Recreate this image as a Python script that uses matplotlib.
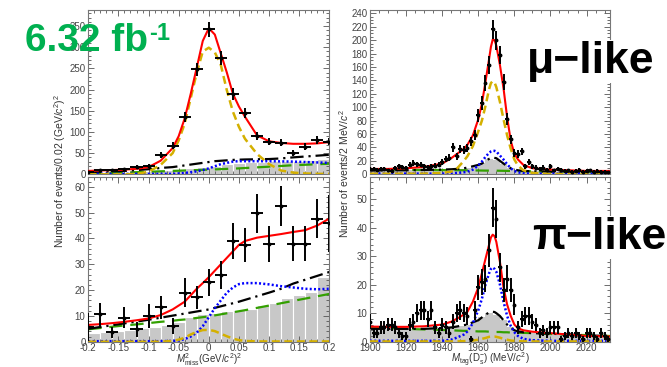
import numpy as np
import matplotlib
matplotlib.use("Agg")
import matplotlib.pyplot as plt
from matplotlib.ticker import MultipleLocator, FuncFormatter

plt.rcParams["font.family"] = ["Liberation Sans", "DejaVu Sans"]
plt.rcParams["mathtext.fontset"] = "custom"
plt.rcParams["mathtext.rm"] = "Liberation Sans"
plt.rcParams["mathtext.it"] = "Liberation Sans:italic"

# ---- left panels: M^2_miss (GeV/c^2)^2 ----
mm_x = [-0.2, -0.18, -0.16, -0.14, -0.12, -0.1, -0.08, -0.06, -0.04, -0.02, 0.0,
        0.02, 0.04, 0.06, 0.08, 0.1, 0.12, 0.14, 0.16, 0.18, 0.2]
mu_mm_n = [6, 9, 10, 12, 18, 20, 46, 67, 136, 248, 342, 274, 189, 145, 90, 77, 75, 51, 65, 81, 77]
mu_mm_err = [2.5, 3, 3.2, 3.5, 4.2, 4.5, 6.8, 8.2, 11.7, 15.7, 18.5, 16.6, 13.7, 12, 9.5, 8.8,
             8.7, 7.1, 8.1, 9, 8.8]
pi_mm_n = [5.8, 10.6, 3.6, 9.3, 4.8, 10, 13.3, 6, 19, 17.2, 23, 25.8, 39, 37.4, 49.7, 38,
           52.5, 38, 38, 47.7, 45.8]
pi_mm_err = [5.5, 4.5, 2, 4, 3, 4.5, 4.5, 3.2, 5.5, 4.5, 5.2, 5.5, 7, 6.6, 7.7, 7, 7.7, 6.7,
             6.7, 7.7, 11]

# gray background histogram (0.02 bins, edges -0.2..0.2)
mm_edges = [-0.2, -0.18, -0.16, -0.14, -0.12, -0.1, -0.08, -0.06, -0.04, -0.02, 0.0,
            0.02, 0.04, 0.06, 0.08, 0.1, 0.12, 0.14, 0.16, 0.18, 0.2]
mu_mm_gray = [4, 5, 5, 6, 7, 8, 10, 12, 14, 17, 20, 24, 27, 29, 30, 31, 31, 32, 33, 35]
pi_mm_gray = [3.5, 3.8, 4.3, 4.7, 5.2, 5.8, 6.5, 7.5, 9.7, 10.7, 11.2, 11.8, 12.3, 12.8,
              14.2, 15, 16.8, 18, 19.4, 25.2]

# fit components
mm_grid = [-0.2, -0.18, -0.16, -0.14, -0.12, -0.1, -0.08, -0.06, -0.05, -0.04, -0.03, -0.02,
           -0.01, 0.0, 0.01, 0.02, 0.03, 0.04, 0.05, 0.06, 0.08, 0.1, 0.12, 0.14, 0.16, 0.18, 0.2]
mu_mm_total = [8, 9, 10, 11, 13, 17, 32, 62, 90, 132, 190, 252, 315, 345, 330, 285, 240, 190,
               160, 136, 92, 78, 74, 72, 72, 73, 76]
mu_mm_sig = [0, 0, 0, 0, 1, 6, 22, 50, 80, 120, 180, 240, 290, 299, 288, 258, 198, 148,
             112, 84, 48, 24, 9, 4, 2, 1, 1]
mu_mm_blue = [1, 1, 1, 1, 1, 1, 1, 1, 2, 3, 5, 7, 10, 14, 19, 24, 27, 30, 31, 31, 31, 31, 30.5,
              30, 29, 28, 27]
mu_mm_black = [5, 6, 7, 8, 10, 12, 15, 17, 19, 21, 23, 25, 27, 29, 31, 32, 33, 34, 34.5, 35,
               35.5, 36, 37.5, 40, 42, 44, 46]
mu_mm_green = [2, 3, 3.5, 4.3, 5, 6, 7, 8, 8.5, 9, 9.5, 10, 10.5, 11, 11.6, 12.2, 12.8, 13.4,
               14, 14.8, 16.4, 18, 19.6, 21.5, 22.5, 23.8, 25]

pi_mm_total = [6.5, 6.8, 7.2, 7.7, 8.3, 9, 10.3, 12.5, 14, 15.5, 18, 20.5, 22.7, 25, 27.5, 30,
               32.5, 35, 37.5, 39, 40.3, 41, 41.7, 42.5, 43.2, 45, 47.7]
pi_mm_sig = [0, 0, 0, 0, 0, 0, 0, 0.3, 0.8, 1.5, 2.8, 3.8, 4.5, 4.6, 4.1, 3.1, 2.1, 1.2, 0.6,
             0.3, 0.1, 0.1, 0.1, 0.1, 0.1, 0.1, 0.1]
pi_mm_blue = [0.2, 0.2, 0.2, 0.2, 0.2, 0.2, 0.2, 0.3, 0.5, 1, 2, 3.5, 6, 9.5, 13, 16, 19, 21,
              22.3, 22.7, 22.7, 22.2, 21.5, 21, 20.5, 20.3, 20.5]
pi_mm_black = [5, 5.7, 6.4, 7.1, 7.8, 8.5, 9.3, 10.1, 10.5, 10.9, 11.3, 11.7, 12.1, 12.5,
               13.1, 13.7, 14.3, 14.9, 15.5, 16.2, 17.6, 19, 20.5, 22.5, 24, 25.5, 27]
pi_mm_green = [4.8, 5.3, 5.8, 6.3, 6.7, 7.2, 7.7, 8.1, 8.4, 8.6, 8.9, 9.2, 9.5, 9.8, 10.2,
               10.6, 11, 11.4, 11.8, 12.2, 13.1, 14, 14.9, 15.8, 16.7, 17.6, 18.5]

# ---- right panels: M_tag(D_s^-) (MeV/c^2) ----
mt_x = list(range(1900, 2033, 2))
mu_mt_n = [8, 8, 7, 8, 8, 6, 5, 9, 12, 11,
           9, 14, 17, 15, 14, 12, 11, 12, 13, 14,
           18, 23, 25, 40, 27, 38, 36, 39, 49, 59,
           88, 106, 136, 163, 216, 200, 178, 138, 82, 52,
           32, 30, 34, 12, 18, 12, 10, 8, 10, 7,
           12, 6, 8, 7, 5, 6, 4, 5, 7, 4,
           5, 6, 4, 5, 4, 4, 3]
mu_mt_err = [2.8, 2.8, 2.6, 2.8, 2.8, 2.4, 2.2, 3, 3.5, 3.3,
             3, 3.7, 4.1, 3.9, 3.7, 3.5, 3.3, 3.5, 3.6, 3.7,
             4.2, 4.8, 5, 6.3, 5.2, 6.2, 6, 6.2, 7, 7.7,
             9.4, 10.3, 11.7, 12.8, 14.7, 14.1, 13.3, 11.7, 9, 7.2,
             5.7, 5.5, 5.8, 3.5, 4.2, 3.5, 3.2, 2.8, 3.2, 2.6,
             3.5, 2.4, 2.8, 2.6, 2.2, 2.4, 2, 2.2, 2.6, 2,
             2.2, 2.4, 2, 2.2, 2, 2, 1.7]
pi_mt_n = [7, 3, 3, 5, 5, 6, 6, 5, 3, 2,
           2, 6, 7, 10, 11, 11, 8, 11, 5, 3,
           6, 5, 3, 7, 10, 11, 10, 9, 1, 11,
           19, 21, 22, 32, 47, 43, 26, 18, 22, 18,
           13, 5, 8, 9, 9, 7, 6, 3, 4, 3,
           5, 5, 5, 1, 2, 3, 2, 3, 2, 1,
           3, 3, 2, 1, 3, 2, 1]
pi_mt_err = [2.6, 1.7, 1.7, 2.2, 2.2, 2.4, 2.4, 2.2, 1.7, 1.4,
             1.4, 2.4, 2.6, 3.2, 3.3, 3.3, 2.8, 3.3, 2.2, 1.7,
             2.4, 2.2, 1.7, 2.6, 3.2, 3.3, 3.2, 3, 1, 3.3,
             4.4, 4.6, 4.7, 5.7, 6.9, 6.6, 5.1, 4.2, 4.7, 4.2,
             3.6, 2.2, 2.8, 3, 3, 2.6, 2.4, 1.7, 2, 1.7,
             2.2, 2.2, 2.2, 1, 1.4, 1.7, 1.4, 1.7, 1.4, 1,
             1.7, 1.7, 1.4, 1, 1.7, 1.4, 1]

mt_edges = list(range(1900, 2037, 4))
mu_mt_gray = [5, 5, 5, 5, 5, 6, 6, 6, 6, 6, 7, 7, 8, 9, 12, 17, 23, 22, 16, 10, 7, 5, 5, 5,
              4, 4, 4, 4, 3, 3, 3, 3, 3, 3]
pi_mt_gray = [4.5, 4.5, 4.5, 4.5, 4.5, 4.5, 4.3, 4.3, 4.3, 4.5, 4.7, 5, 5.5, 6, 7, 8.5, 10,
              9.5, 7.5, 5, 4, 3.5, 3.2, 3, 3, 2.8, 2.6, 2.5, 2.3, 2.2, 2, 2, 2, 2]

mt_grid = [1900, 1910, 1920, 1930, 1940, 1945, 1948, 1952, 1954, 1957, 1960, 1962, 1964,
           1966, 1967, 1968, 1969, 1970, 1972, 1974, 1976, 1978, 1980, 1982, 1985, 1990,
           2000, 2010, 2020, 2033]
mu_mt_total = [8, 8, 9, 11, 16, 24, 30, 38, 44, 58, 82, 105, 138, 172, 190, 201, 200, 192,
               163, 128, 85, 50, 31, 22, 14, 9, 7, 6, 5, 5]
mu_mt_sig = [1, 1, 1, 1, 2, 4, 8, 20, 27, 42, 64, 80, 102, 127, 136, 139, 137, 130, 108, 82,
             58, 38, 22, 13, 6, 2, 0.5, 0.5, 0.5, 0.5]
mu_mt_blue = [1, 1, 1, 1, 1, 1.2, 2, 3, 4, 7, 13, 19, 26, 32, 34, 35, 35, 34, 28, 22, 15, 9,
              5, 3, 1.5, 1, 1, 1, 1, 1]
mu_mt_black = [6, 6, 6, 6.5, 7, 7.5, 8, 9, 10, 12, 14, 16, 20, 23, 24, 25, 24.5, 24, 20, 16,
               12, 9, 7, 6, 5, 4.5, 4, 3.5, 3, 3]
mu_mt_green = [7, 7, 6.8, 6.5, 6.3, 6.2, 6.1, 6, 5.9, 5.8, 5.7, 5.6, 5.5, 5.5, 5.5, 5.5, 5.4,
               5.4, 5.3, 5.2, 5.1, 5, 4.9, 4.8, 4.6, 4.4, 4, 3.6, 3.3, 3]

pi_mt_total = [5.3, 5.2, 5.2, 5.4, 6, 7, 8, 9.5, 10.5, 14, 19, 24, 29, 34, 36.5, 37.5, 37,
               35, 28, 19, 13, 9, 6, 4.7, 4, 3.5, 3, 2.5, 2, 1.8]
pi_mt_sig = [0.1, 0.1, 0.1, 0.1, 0.1, 0.1, 0.1, 0.2, 0.3, 0.4, 0.7, 1, 1.3, 1.7, 1.8, 1.8,
             1.8, 1.7, 1.4, 1, 0.7, 0.4, 0.3, 0.2, 0.1, 0.1, 0.1, 0.1, 0.1, 0.1]
pi_mt_blue = [0.3, 0.3, 0.3, 0.3, 0.3, 0.7, 1.4, 2.5, 3.6, 6.5, 11, 15, 20, 24, 25.5, 26,
              25.5, 24.5, 20, 14, 9, 5.5, 3.3, 2, 1, 0.5, 0.3, 0.3, 0.3, 0.3]
pi_mt_black = [4.5, 4.5, 4.5, 4.5, 4.8, 5, 5.3, 5.8, 6, 6.8, 7.5, 8.5, 9.5, 10.2, 10.4, 10.5,
               10.4, 10, 9, 7.5, 6, 5, 4, 3.6, 3.3, 3, 2.8, 2.5, 2.2, 2]
pi_mt_green = [5, 4.8, 4.5, 4.3, 4.1, 4, 3.9, 3.8, 3.8, 3.7, 3.6, 3.6, 3.6, 3.5, 3.5, 3.5,
               3.4, 3.4, 3.4, 3.3, 3.3, 3.2, 3.2, 3.1, 3.1, 3, 2.7, 2.5, 2.3, 2]

TICK_COLOR = "#444444"
plain = FuncFormatter(lambda v, pos: "%g" % round(v, 4))


def style_axes(ax, xmaj, xmin, ymaj, ymin):
    ax.xaxis.set_major_locator(MultipleLocator(xmaj))
    ax.xaxis.set_minor_locator(MultipleLocator(xmin))
    ax.yaxis.set_major_locator(MultipleLocator(ymaj))
    ax.yaxis.set_minor_locator(MultipleLocator(ymin))
    ax.xaxis.set_major_formatter(plain)
    ax.yaxis.set_major_formatter(plain)
    ax.tick_params(which="both", direction="in", top=True, right=True,
                   labelsize=7, labelcolor=TICK_COLOR, color="#555555", width=0.6, pad=2)
    ax.tick_params(axis="x", pad=1)
    ax.tick_params(which="major", length=4)
    ax.tick_params(which="minor", length=2)
    for s in ax.spines.values():
        s.set_color("#777777")
        s.set_linewidth(0.8)


def draw_panel(ax, edges, gray, grid, total, sig, blue, black, green, x, n, err, xerr, edgecol):
    edges = np.asarray(edges, dtype=float)
    ax.bar(edges[:-1], gray, width=np.diff(edges), align="edge", color="#c8c8c8",
           edgecolor=edgecol, linewidth=0.8, zorder=1)
    ax.plot(grid, green, color="#33a000", lw=1.6, dashes=(6, 3.5), zorder=2)
    ax.plot(grid, black, color="black", lw=1.6, dashes=(6, 2.2, 1, 2.2), zorder=2)
    ax.plot(grid, blue, color="#0000ff", lw=1.8, dashes=(0.8, 0.9), zorder=3)
    ax.plot(grid, sig, color="#d4b000", lw=1.8, dashes=(3.2, 1.8), zorder=3)
    ax.plot(grid, total, color="#ff0000", lw=1.5, zorder=4)
    ax.errorbar(x, n, yerr=err, xerr=xerr, fmt="o", ms=1.8, color="black",
                ecolor="black", elinewidth=1.4, capsize=0, zorder=5)


fig = plt.figure(figsize=(6.67, 3.67), dpi=100)
W, H = 667.0, 367.0


def axes_px(x0, y0, x1, y1):
    return fig.add_axes([x0 / W, 1 - y1 / H, (x1 - x0) / W, (y1 - y0) / H])


def fig_text(x, y, s, **kw):
    return fig.text(x / W, 1 - y / H, s, **kw)


ax_tl = axes_px(88.3, 10, 329.3, 174.3)
ax_bl = axes_px(88.3, 177, 329.3, 341.7)
ax_tr = axes_px(370, 10, 610, 174.3)
ax_br = axes_px(370, 177, 610, 341.7)

draw_panel(ax_tl, mm_edges, mu_mm_gray, mm_grid, mu_mm_total, mu_mm_sig, mu_mm_blue,
           mu_mm_black, mu_mm_green, mm_x, mu_mm_n, mu_mm_err, 0.01, "white")
draw_panel(ax_bl, mm_edges, pi_mm_gray, mm_grid, pi_mm_total, pi_mm_sig, pi_mm_blue,
           pi_mm_black, pi_mm_green, mm_x, pi_mm_n, pi_mm_err, 0.01, "white")
draw_panel(ax_tr, mt_edges, mu_mt_gray, mt_grid, mu_mt_total, mu_mt_sig, mu_mt_blue,
           mu_mt_black, mu_mt_green, mt_x, mu_mt_n, mu_mt_err, 1, "none")
draw_panel(ax_br, mt_edges, pi_mt_gray, mt_grid, pi_mt_total, pi_mt_sig, pi_mt_blue,
           pi_mt_black, pi_mt_green, mt_x, pi_mt_n, pi_mt_err, 1, "none")

style_axes(ax_tl, 0.05, 0.01, 50, 10)
style_axes(ax_bl, 0.05, 0.01, 10, 2)
style_axes(ax_tr, 20, 5, 20, 5)
style_axes(ax_br, 20, 5, 10, 2)
for ax in (ax_tl, ax_bl):
    ax.set_xlim(-0.2, 0.2)
for ax in (ax_tr, ax_br):
    ax.set_xlim(1900, 2033)
ax_tl.set_ylim(0, 388)
ax_bl.set_ylim(0, 63.8)
ax_tr.set_ylim(0, 245)
ax_br.set_ylim(0, 57.7)
ax_tl.tick_params(labelbottom=False)
ax_tr.tick_params(labelbottom=False)

fig_text(209, 363, r"$M^2_{\rm miss}$(GeV/$c^2$)$^2$", fontsize=7, color="#333333",
         ha="center", va="baseline")
fig_text(490, 363, r"$M_{\rm tag}$(D$_{\rm s}^{-}$) (MeV/$c^2$)", fontsize=7,
         color="#333333", ha="center", va="baseline")

fig_text(60, 171, r"Number of events/0.02 (GeV/$c^2$)$^2$", rotation=90,
         ha="center", va="center", fontsize=7.5, color="#333333")
fig_text(344, 174, r"Number of events/2 MeV/$c^2$", rotation=90,
         ha="center", va="center", fontsize=7.5, color="#333333")

fig_text(25, 51, "6.32 fb", fontsize=28, fontweight="bold", color="#00b050",
         ha="left", va="baseline", zorder=10)
fig_text(149, 40, "-1", fontsize=17, fontweight="bold", color="#00b050",
         ha="left", va="baseline", zorder=10)
fig_text(527, 73, "\u03bc\u2212like", fontsize=32, fontweight="bold",
         color="black", ha="left", va="baseline",
         bbox=dict(facecolor="white", edgecolor="none", pad=1))
fig_text(532, 249, "\u03c0\u2212like", fontsize=32, fontweight="bold",
         color="black", ha="left", va="baseline",
         bbox=dict(facecolor="white", edgecolor="none", pad=1))

fig.savefig("out.png", dpi=100)
